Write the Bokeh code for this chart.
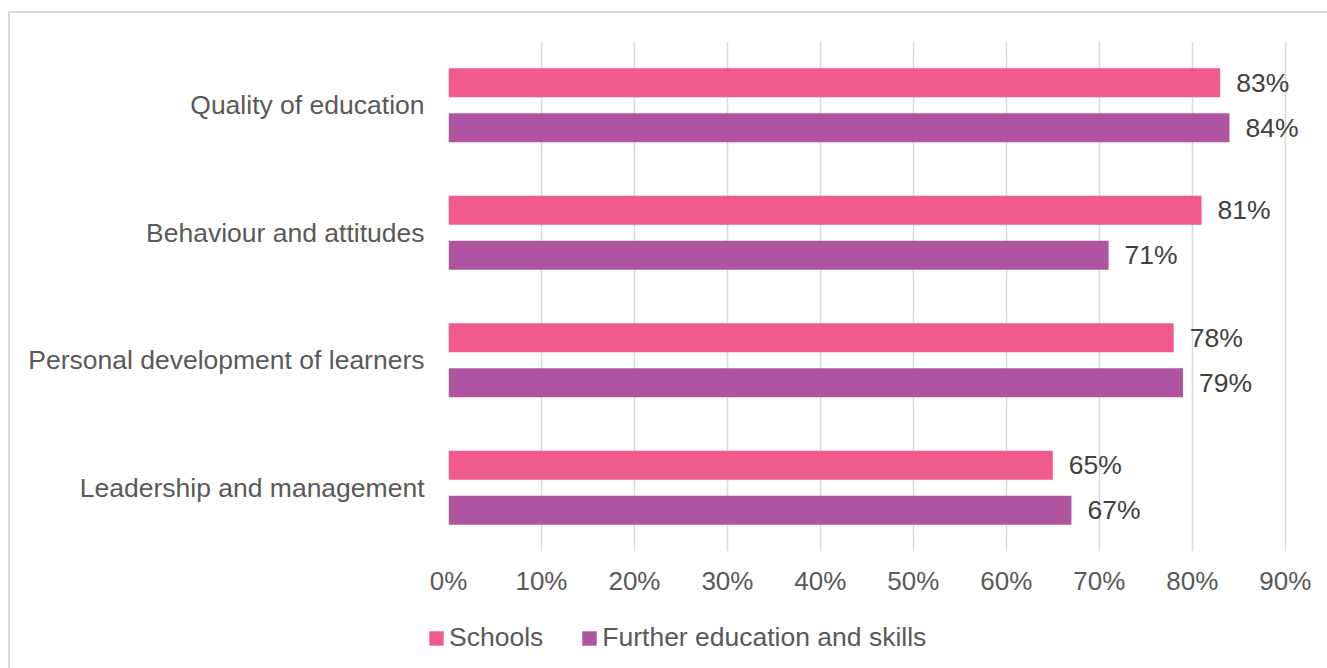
from bokeh.plotting import figure
from bokeh.layouts import column, row
from bokeh.models import (ColumnDataSource, FactorRange, Range1d, FixedTicker,
                          NumeralTickFormatter, Legend, LegendItem)
from bokeh.transform import dodge
from bokeh.core.properties import value
from bokeh.embed import file_html
from bokeh.resources import INLINE

categories = ["Quality of education", "Behaviour and attitudes",
              "Personal development of learners", "Leadership and management"]
schools = [83, 81, 78, 65]
further_ed = [84, 71, 79, 67]
series_names = ["Schools", "Further education and skills"]
tick_values = [0, 0.1, 0.2, 0.3, 0.4, 0.5, 0.6, 0.7, 0.8, 0.9]

PINK = "#F05A8F"
PURPLE = "#AE54A1"
FONT = "Liberation Sans"

src = ColumnDataSource(dict(
    cat=categories,
    s=[v / 100 for v in schools],
    f=[v / 100 for v in further_ed],
    s_lab=[f"{v}%" for v in schools],
    f_lab=[f"{v}%" for v in further_ed],
))

p = figure(width=1317, height=600, output_backend="svg", toolbar_location=None,
           y_range=FactorRange(factors=list(reversed(categories)), range_padding=0),
           x_range=Range1d(0, 0.925),
           min_border_left=438, min_border_right=19, min_border_top=28,
           min_border_bottom=62)
p.outline_line_color = None
p.background_fill_color = "white"
p.border_fill_color = "white"

r1 = p.hbar(y=dodge("cat", 0.177, range=p.y_range), right="s", left=0, height=0.2275,
            source=src, fill_color=PINK, line_color=None)
r2 = p.hbar(y=dodge("cat", -0.176, range=p.y_range), right="f", left=0, height=0.2275,
            source=src, fill_color=PURPLE, line_color=None)

p.text(x="s", y=dodge("cat", 0.177, range=p.y_range), text="s_lab", source=src,
       x_offset=16, text_align="left", text_baseline="middle",
       text_font=value(FONT), text_font_size="26.5px", text_color="#404040")
p.text(x="f", y=dodge("cat", -0.176, range=p.y_range), text="f_lab", source=src,
       x_offset=16, text_align="left", text_baseline="middle",
       text_font=value(FONT), text_font_size="26.5px", text_color="#404040")

# axes
p.xaxis.ticker = FixedTicker(ticks=tick_values)
p.xaxis.formatter = NumeralTickFormatter(format="0%")
p.xaxis.axis_line_color = None
p.xaxis.major_tick_line_color = None
p.xaxis.minor_tick_line_color = None
p.xaxis.major_tick_out = 0
p.xaxis.major_label_standoff = 14
p.xaxis.major_label_text_font = FONT
p.xaxis.major_label_text_font_size = "26px"
p.xaxis.major_label_text_color = "#595959"

p.yaxis.axis_line_color = None
p.yaxis.major_tick_line_color = None
p.yaxis.minor_tick_line_color = None
p.yaxis.major_tick_out = 0
p.yaxis.major_label_standoff = 24
p.yaxis.major_label_text_font = FONT
p.yaxis.major_label_text_font_size = "26.5px"
p.yaxis.major_label_text_color = "#595959"

p.xgrid.grid_line_color = "#d9d9d9"
p.xgrid.grid_line_width = 1.5
p.ygrid.grid_line_color = None

# legend strip (its own small figure, frame spanning the whole strip)
lf = figure(width=1317, height=55, output_backend="svg", toolbar_location=None,
            x_range=Range1d(0, 1), y_range=Range1d(0, 1),
            x_axis_type=None, y_axis_type=None,
            min_border_left=0, min_border_right=0, min_border_top=0, min_border_bottom=0)
lf.outline_line_color = None
lf.xgrid.visible = False
lf.ygrid.visible = False
offscreen = ColumnDataSource(dict(y=[-5], right=[-5]))
l1 = lf.hbar(y="y", right="right", height=0.1, source=offscreen, fill_color=PINK, line_color=None)
l2 = lf.hbar(y="y", right="right", height=0.1, source=offscreen, fill_color=PURPLE, line_color=None)

legend = Legend(items=[LegendItem(label=series_names[0], renderers=[l1]),
                       LegendItem(label=series_names[1], renderers=[l2])],
                orientation="horizontal", location=(417, 15),
                glyph_width=18, glyph_height=18, label_text_font=FONT,
                label_text_font_size="26.5px", label_text_color="#595959",
                spacing=37, padding=0, margin=0, label_standoff=4,
                border_line_color=None, background_fill_alpha=0)
lf.add_layout(legend, "center")

layout = column(p, row(lf), spacing=0, margin=(11, 0, 0, 8),
                styles={"border-top": "2px solid #d9d9d9",
                        "border-left": "2px solid #d9d9d9"})

open("out.html", "w").write(file_html(layout, INLINE))
